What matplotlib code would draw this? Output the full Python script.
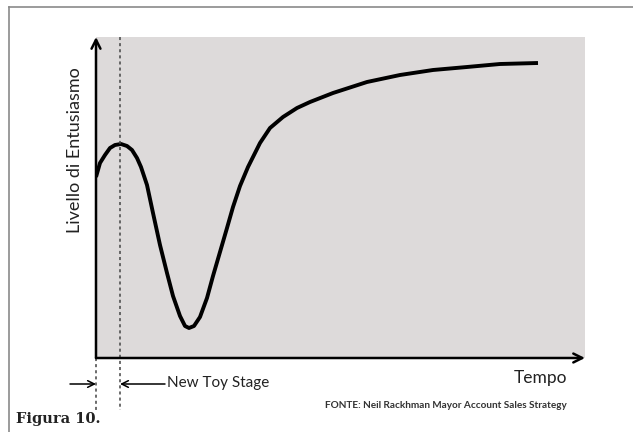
import matplotlib.pyplot as plt
from matplotlib.lines import Line2D

# curve (x = time, y = enthusiasm, arbitrary units)
tempo = [0, 4, 9, 14, 19, 25, 31, 36, 41, 45, 51, 57, 64, 71, 77, 84, 89, 93,
         98, 104, 111, 117, 124, 131, 137, 144, 152, 164, 174, 187, 201, 214,
         237, 271, 304, 337, 371, 404, 442]
entusiasmo = [181, 195, 203, 210, 213, 214, 212, 208, 200, 191, 173, 145, 113,
              85, 62, 42, 32, 30, 32, 41, 60, 82, 106, 130, 151, 172, 191, 215,
              230, 241, 250, 256, 265, 276, 283, 288, 291, 294, 295]
new_toy_end = 24
x_max, y_max = 489, 321

W, H = 633, 432


def px(x, y):
    return x / W, 1 - y / H


fig = plt.figure(figsize=(W / 100, H / 100), dpi=100)
fig.patch.set_facecolor('white')

# outer frame (top and left)
fig.add_artist(Line2D([9 / W, 1], [1 - 7 / H] * 2, color='#8a8a8a', lw=1.2))
fig.add_artist(Line2D([9 / W] * 2, [0, 1 - 7 / H], color='#8a8a8a', lw=1.2))

ax = fig.add_axes([96 / W, (H - 358) / H, (585 - 96) / W, (358 - 37) / H])
ax.set_facecolor('#dddada')
ax.set_xlim(0, x_max)
ax.set_ylim(0, y_max)
ax.set_xticks([])
ax.set_yticks([])
for s in ax.spines.values():
    s.set_visible(False)

ax.plot(tempo, entusiasmo, color='black', lw=2.8, solid_capstyle='butt',
        solid_joinstyle='round')

# axes with arrows
ax.annotate('', xy=(0, 1.0), xytext=(0, 0), xycoords='axes fraction',
            arrowprops=dict(arrowstyle='->', lw=1.8, color='black',
                            mutation_scale=16, shrinkA=0, shrinkB=0),
            annotation_clip=False)
ax.annotate('', xy=(1.0, 0), xytext=(0, 0), xycoords='axes fraction',
            arrowprops=dict(arrowstyle='->', lw=1.8, color='black',
                            mutation_scale=16, shrinkA=0, shrinkB=0),
            annotation_clip=False)

# dotted stage markers
ax.plot([0, 0], [0, -52], ls=(0, (2, 2)), color='#444444', lw=1.1, clip_on=False)
ax.plot([new_toy_end, new_toy_end], [y_max, -52], ls=(0, (2, 2)),
        color='#444444', lw=1.1, clip_on=False)

# stage arrows
ax.annotate('', xy=(0, -26), xytext=(-26, -26), xycoords='data',
            arrowprops=dict(arrowstyle='->', lw=1.1, color='black',
                            mutation_scale=12, shrinkA=0, shrinkB=0),
            annotation_clip=False)
ax.annotate('', xy=(new_toy_end, -26), xytext=(new_toy_end + 45, -26),
            xycoords='data',
            arrowprops=dict(arrowstyle='->', lw=1.1, color='black',
                            mutation_scale=12, shrinkA=0, shrinkB=0),
            annotation_clip=False)

font = 'Lato'
fig.text(*px(167, 383), 'New Toy Stage', fontsize=11, family=font,
         color='#222222', va='center', ha='left')
fig.text(*px(567, 378), 'Tempo', fontsize=12.5, family=font,
         color='#222222', va='center', ha='right')
fig.text(*px(567, 406), 'FONTE: Neil Rackhman Mayor Account Sales Strategy',
         fontsize=7.2, family=font, weight='bold', color='#333333',
         va='center', ha='right')
fig.text(*px(75, 150), 'Livello di Entusiasmo', fontsize=13, family=font,
         color='#222222', va='center', ha='center', rotation=90)
fig.text(*px(16, 419), 'Figura 10.', fontsize=10.5, family='DejaVu Serif',
         weight='bold', color='#222222', va='center', ha='left')

fig.savefig('out.png', dpi=100)
